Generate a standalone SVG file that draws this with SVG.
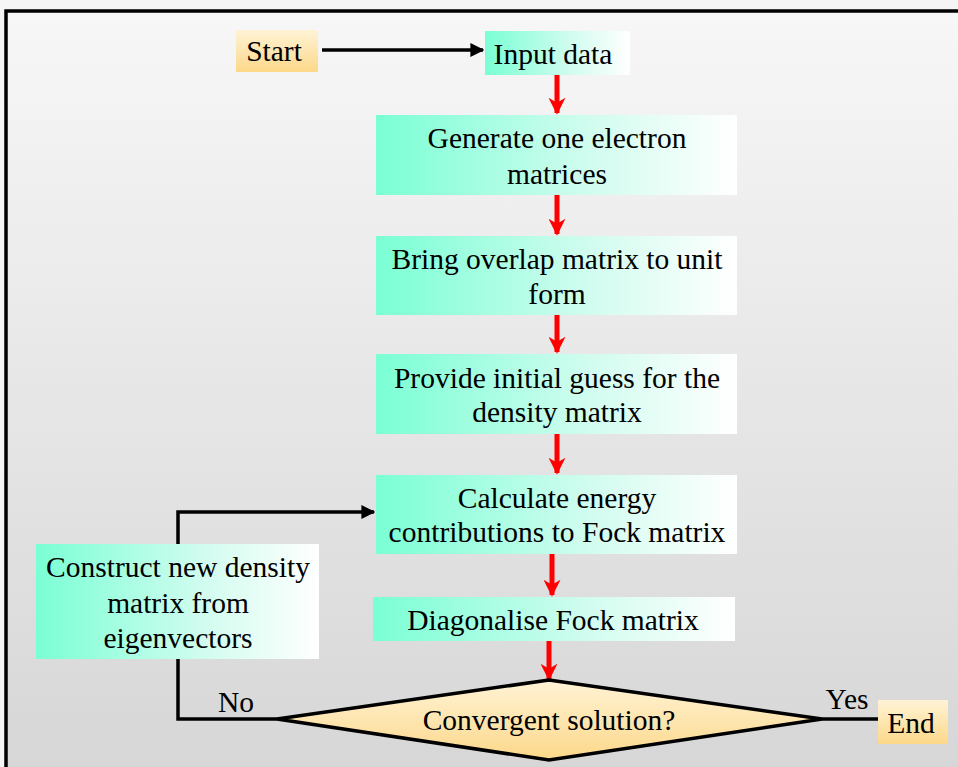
<svg xmlns="http://www.w3.org/2000/svg" width="958" height="767" viewBox="0 0 958 767">
<defs>
<linearGradient id="bg" x1="0" y1="0" x2="0" y2="1"><stop offset="0" stop-color="#f7f7f7"/><stop offset="1" stop-color="#d6d6d6"/></linearGradient>
<linearGradient id="aqua" x1="0" y1="0" x2="1" y2="0"><stop offset="0" stop-color="#7affd4"/><stop offset="0.6" stop-color="#d2fcef"/><stop offset="1" stop-color="#ffffff"/></linearGradient>
<linearGradient id="gold" x1="0" y1="0" x2="0" y2="1"><stop offset="0" stop-color="#fff3d6"/><stop offset="1" stop-color="#fcd889"/></linearGradient>
<marker id="blk" viewBox="0 0 10 10" refX="9" refY="5" markerWidth="4" markerHeight="4" orient="auto" markerUnits="strokeWidth"><path d="M0,0 L10,5 L0,10 z" fill="#000"/></marker>
<marker id="red" viewBox="0 0 10 10" refX="9" refY="5" markerWidth="3.4" markerHeight="3.4" orient="auto" markerUnits="strokeWidth"><path d="M0,0 L10,5 L0,10 L3,5 z" fill="#ff0000"/></marker>
</defs>
<style>
text{font-family:"Liberation Serif","Times New Roman",serif;font-size:29.5px;fill:#000;text-anchor:middle;dominant-baseline:central}
.a{fill:url(#aqua)}
.g{fill:url(#gold)}
.r{stroke:#ff0000;stroke-width:5;fill:none;marker-end:url(#red)}
.k{stroke:#000;stroke-width:3.5;fill:none}
</style>
<rect x="0" y="0" width="958" height="767" fill="#f5f5f5"/>
<rect x="6" y="11" width="960" height="770" fill="url(#bg)" stroke="#000" stroke-width="3.5"/>
<g id="connectors">
<line class="k" x1="322" y1="50" x2="483" y2="50" marker-end="url(#blk)"/>
<line class="r" x1="557" y1="75" x2="557" y2="113"/>
<line class="r" x1="557" y1="195" x2="557" y2="234"/>
<line class="r" x1="557" y1="315" x2="557" y2="352"/>
<line class="r" x1="557" y1="434" x2="557" y2="473"/>
<line class="r" x1="552" y1="554" x2="552" y2="595"/>
<line class="r" x1="549" y1="641" x2="549" y2="679"/>
<line class="k" x1="822" y1="719" x2="878" y2="719"/>
<polyline class="k" points="277,719 178,719 178,512 374,512" marker-end="url(#blk)"/>
<text x="236" y="702">No</text>
<text x="847" y="699">Yes</text>
</g>
<g id="start"><rect class="g" x="236" y="30" width="82" height="42"/><text x="274" y="51">Start</text></g>
<g id="input"><rect class="a" x="485" y="31" width="145" height="44"/><text x="553" y="54">Input data</text></g>
<g id="generate"><rect class="a" x="376" y="115" width="361" height="80"/><text x="557" y="138">Generate one electron</text><text x="557" y="174">matrices</text></g>
<g id="bring"><rect class="a" x="376" y="236" width="361" height="79"/><text x="557" y="259">Bring overlap matrix to unit</text><text x="557" y="294">form</text></g>
<g id="provide"><rect class="a" x="376" y="354" width="361" height="80"/><text x="557" y="378">Provide initial guess for the</text><text x="557" y="412">density matrix</text></g>
<g id="calculate"><rect class="a" x="376" y="475" width="361" height="79"/><text x="557" y="498">Calculate energy</text><text x="557" y="532">contributions to Fock matrix</text></g>
<g id="diagonalise"><rect class="a" x="373" y="597" width="362" height="44"/><text x="553" y="620">Diagonalise Fock matrix</text></g>
<g id="construct"><rect class="a" x="36" y="544" width="283" height="115"/><text x="178" y="567">Construct new density</text><text x="178" y="603">matrix from</text><text x="178" y="638">eigenvectors</text></g>
<g id="decision"><polygon class="g" points="277,719 549,680 822,719 549,760" stroke="#000" stroke-width="3.5"/><text x="549" y="720">Convergent solution?</text></g>
<g id="end"><rect class="g" x="878" y="700" width="70" height="44"/><text x="911" y="723">End</text></g>
</svg>
